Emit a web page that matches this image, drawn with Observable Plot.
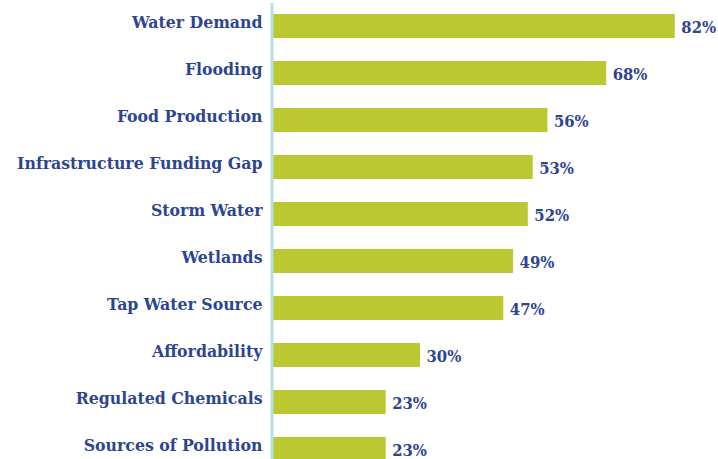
<!DOCTYPE html>
<html>
<head>
<meta charset="utf-8">
<script src="https://cdn.jsdelivr.net/npm/d3@7"></script>
<script src="https://cdn.jsdelivr.net/npm/@observablehq/plot@0.6"></script>
<style>
  html, body { margin: 0; padding: 0; background: #ffffff; overflow: hidden; }
  #chart svg { display: block; }
  #chart svg text { font-stretch: condensed; }
</style>
</head>
<body>
<div id="chart"></div>
<script>
const categories = [
  "Water Demand",
  "Flooding",
  "Food Production",
  "Infrastructure Funding Gap",
  "Storm Water",
  "Wetlands",
  "Tap Water Source",
  "Affordability",
  "Regulated Chemicals",
  "Sources of Pollution"
];
const values = [82, 68, 56, 53, 52, 49, 47, 30, 23, 23];
const valueLabels = ["82%", "68%", "56%", "53%", "52%", "49%", "47%", "30%", "23%", "23%"];

const data = categories.map((c, i) => ({category: c, value: values[i], label: valueLabels[i]}));

const textColor = "#2d4491";
const barColor = "#bcc831";
const lineColor = "#b5dfe0";
const font = "'DejaVu Serif Condensed', 'DejaVu Serif', serif";

const chart = Plot.plot({
  width: 718,
  height: 459,
  marginLeft: 273,
  marginRight: 0,
  marginTop: 0,
  marginBottom: 0,
  style: {fontFamily: font, background: "#ffffff", overflow: "hidden"},
  x: {domain: [0, 100], range: [273, 763], axis: null},
  y: {domain: categories, range: [13, 462.8], paddingInner: 0.49, paddingOuter: 0, axis: null},
  marks: [
    Plot.barX(data, {x: "value", y: "category", fill: barColor}),
    Plot.ruleX([0], {stroke: lineColor, strokeWidth: 3, dx: -1.5, insetTop: 3}),
    Plot.text(data, {x: 0, y: "category", text: "category", textAnchor: "end", dx: -11, dy: -4,
      fill: textColor, fontSize: 17.5, fontWeight: "bold", fontFamily: font}),
    Plot.text(data, {x: "value", y: "category", text: "label", textAnchor: "start", dx: 6, dy: 1,
      fill: textColor, fontSize: 16.5, fontWeight: "bold", fontFamily: font})
  ]
});
document.getElementById("chart").appendChild(chart);
</script>
</body>
</html>
